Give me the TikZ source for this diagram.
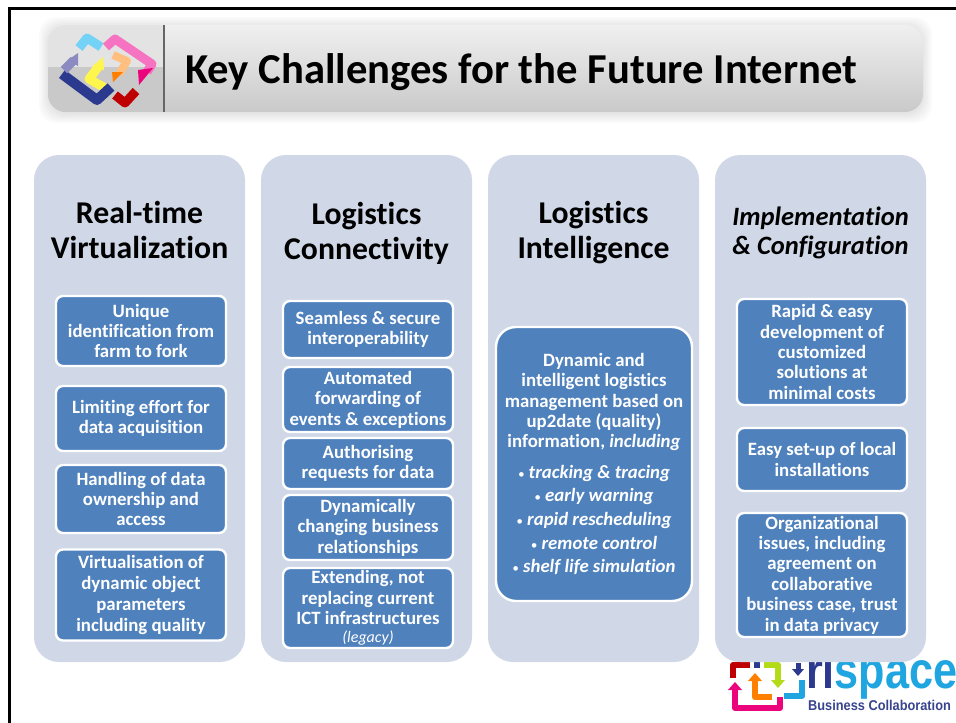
\documentclass[tikz,border=0pt]{standalone}
\usepackage{fontspec}
\setmainfont[Ligatures=NoCommon]{Carlito}
\newfontfamily\logofont{Liberation Sans}
\usetikzlibrary{arrows.meta}
\definecolor{panelc}{HTML}{D0D8E8}
\definecolor{boxc}{HTML}{4F81BD}
\definecolor{logonavy}{HTML}{2B3A8F}
\definecolor{logosky}{HTML}{1FA5DF}
\newcommand{\bul}{{\fontsize{13}{13}\selectfont\mdseries •}~}
\tikzset{
  x=1pt,y=-1pt,
  panel/.style={fill=panelc,draw=none,rounded corners=25pt,minimum width=211pt,inner sep=0pt},
  bx/.style={fill=boxc,draw=white,line width=2.4pt,rounded corners=7pt,minimum width=170pt,inner sep=0pt,text=white,align=center,
    font=\fontsize{18.8}{20.4}\selectfont\bfseries},
  head/.style={align=center,text=black,font=\fontsize{31.7}{35}\selectfont\bfseries},
  lk/.style={line width=#1,line join=round}
}
\begin{document}
\begin{tikzpicture}
\useasboundingbox (0,0) rectangle (956,723);
\clip (0,0) rectangle (956,723);
\fill[white] (0,0) rectangle (956,723);
\draw[black,line width=3pt] (9,723) -- (9,8) -- (956,8);
% title bar shadow
\foreach \s in {9,7,5,3,1}{
  \fill[black,opacity=0.02,rounded corners=18pt] (48-\s,25-\s+1) rectangle (923+\s,112+\s+2);
}
\shade[rounded corners=18pt,top color=black!6,bottom color=black!21] (48,25) rectangle (923,112);
\begin{scope}
\clip[rounded corners=18pt] (48,25) rectangle (923,112);
\fill[black!11] (48,25) rectangle (164,67);
\fill[black!21] (48,67) rectangle (164,112);
\end{scope}
\draw[black!60,line width=1.3pt] (164,25) -- (164,112);
% header logo
\draw[lk=9pt,color=cyan!55] (79,48) -- (87,38) -- (101,47);
\draw[lk=9pt,color=magenta!55] (106,47) -- (115,39) -- (152,64) -- (147,72);
\fill[magenta!85!red] (153,68) -- (139,85) -- (138,70) -- cycle;
\draw[lk=8pt,color=orange!50] (113,55) -- (127,61) -- (119,74);
\fill[orange] (123,72) -- (112,72) -- (113,82) -- cycle;
\draw[lk=9pt,color=yellow!70] (99,66) -- (89,79) -- (107,89);
\fill[yellow!70] (92,67) -- (103,57) -- (104,70) -- cycle;
\draw[lk=10pt,color=logonavy] (62,74) -- (97,100) -- (111,87);
\draw[lk=9pt,color=blue!30!gray!70] (64,70) -- (74,60);
\fill[blue!30!gray!70] (68,60) -- (78,53) -- (78,66) -- cycle;
\draw[lk=9pt,color=red!75!black] (115,95) -- (125,103) -- (136,91);
% footer logo
\draw[lk=6pt,color=red!75!black] (733,678) -- (733,665) -- (750,665);
\draw[lk=6pt,color=logonavy] (754,665) -- (760,665);
\draw[lk=6pt,color=yellow!70!green] (764,665) -- (778,665) -- (778,680);
\fill[yellow!70!green] (771,680) -- (785,680) -- (778,688) -- cycle;
\draw[lk=6pt,color=orange] (772,697) -- (755,697) -- (755,681);
\fill[orange] (748,681) -- (762,681) -- (755,673) -- cycle;
\draw[lk=6pt,color=magenta!85!red] (780,697) -- (780,708) -- (735,708) -- (735,690);
\fill[magenta!85!red] (728,690) -- (742,690) -- (735,682) -- cycle;
\draw[lk=6pt,color=logosky] (784,696) -- (802,696) -- (802,680);
\draw[lk=5pt,color=logonavy] (798,663) -- (798,670);
\fill[logonavy] (792,669) -- (804,669) -- (798,676) -- cycle;
\node[anchor=base west,inner sep=0pt,xscale=0.83,transform shape,font=\logofont\fontsize{52}{52}\selectfont\bfseries] (logoword) at (806,688) {\textcolor{logonavy}{ri}\textcolor{logosky}{space}};
\node[anchor=base west,inner sep=0pt,xscale=0.9,transform shape,text=logonavy!85!gray,font=\logofont\fontsize{14.2}{16}\selectfont\bfseries] (logosub) at (808,710) {Business Collaboration};
% panels
\node[panel,minimum height=507pt] (p1) at (139.5,408.5) {};
\node[panel,minimum height=507pt] (p2) at (366.5,408.5) {};
\node[panel,minimum height=507pt] (p3) at (593.5,408.5) {};
\node[panel,minimum height=507pt] (p4) at (820.5,408.5) {};
% title
\node[anchor=base west,inner sep=0pt,text=black,font=\fontsize{42.65}{44}\selectfont\bfseries] (title) at (185,83) {Key Challenges for the Future Internet};
% headings
\node[head] (h1) at (139.5,230) {Real-time\\Virtualization};
\node[head] (h2) at (366.5,233) {Logistics\\Connectivity};
\node[head] (h3) at (593.5,233) {Logistics\\Intelligence};
\node[head,font=\fontsize{26.5}{29.5}\selectfont\bfseries\itshape] (h4) at (820.5,233) {Implementation\\\& Configuration};
% col 1
\node[bx,minimum height=70pt] (a1) at (141,331) {Unique\\identification from\\farm to fork};
\node[bx,minimum height=65pt] (a2) at (141,418.5) {Limiting effort for\\data acquisition};
\node[bx,minimum height=68pt] (a3) at (141,499) {Handling of data\\ownership and\\access};
\node[bx,minimum height=91pt,font=\fontsize{18.8}{20.7}\selectfont\bfseries] (a4) at (141,595) {Virtualisation of\\dynamic object\\parameters\\including quality};
% col 2
\node[bx,minimum height=57pt] (b1) at (368,329.5) {Seamless \& secure\\interoperability};
\node[bx,minimum height=65pt] (b2) at (368,399.5) {Automated\\forwarding of\\events \& exceptions};
\node[bx,minimum height=51pt] (b3) at (368,463.5) {Authorising\\requests for data};
\node[bx,minimum height=65pt] (b4) at (368,527.5) {Dynamically\\changing business\\relationships};
\node[bx,minimum height=80pt] (b5) at (368,608) {Extending, not\\replacing current\\ICT infrastructures\\[-2pt]{\fontsize{16}{16}\selectfont\mdseries\itshape (legacy)}};
% col 3
\node[bx,minimum width=196pt,minimum height=274pt,rounded corners=20pt] (c1) at (594,464) {Dynamic and\\intelligent logistics\\management based on\\up2date (quality)\\information, \textit{including}\\[10pt]
\textit{\bul tracking \& tracing}\\[3.2pt]\textit{\bul early warning}\\[3.2pt]\textit{\bul rapid rescheduling}\\[3.2pt]\textit{\bul remote control}\\[3.2pt]\textit{\bul shelf life simulation}};
% col 4
\node[bx,minimum height=106pt] (d1) at (822,352) {Rapid \& easy\\development of\\customized\\solutions at\\minimal costs};
\node[bx,minimum height=63pt] (d2) at (822,459.5) {Easy set-up of local\\installations};
\node[bx,minimum height=124pt] (d3) at (822,575) {Organizational\\issues, including\\agreement on\\collaborative\\business case, trust\\in data privacy};
\end{tikzpicture}
\end{document}
